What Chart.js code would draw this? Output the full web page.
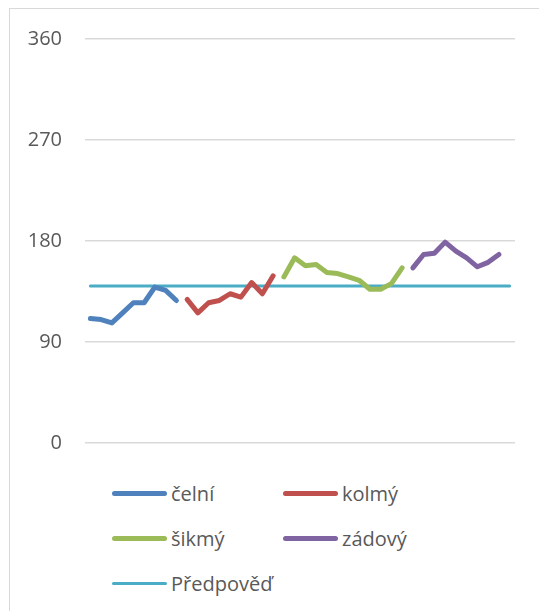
<!DOCTYPE html>
<html>
<head>
<meta charset="utf-8">
<script src="https://cdn.jsdelivr.net/npm/chart.js@4/dist/chart.umd.min.js"></script>
<style>
    html, body { margin: 0; padding: 0; background: #fff; overflow: hidden; }
    body { width: 539px; height: 611px; position: relative; font-family: 'Open Sans', sans-serif; }
    #frame { position: absolute; left: 9px; top: 8px; width: 600px; height: 700px; border: 1.5px solid #d9d9d9; }
    #wrap { position: absolute; left: 0; top: 0; width: 539px; height: 478px; }
    #legend { position: absolute; left: 0; top: 0; }
    .item { position: absolute; height: 30px; display: flex; align-items: center; color: #595959; font-size: 20px; }
    .swatch { width: 55px; border-radius: 3px; margin-right: 4px; }
</style>
</head>
<body>
<div id="frame"></div>
<div id="wrap"><canvas id="chart"></canvas></div>
<div id="legend"></div>
<script>
// 40 kategorií, každá řada má hodnoty jen ve svém úseku
const N = 40;
const labels = Array.from({ length: N }, (_, i) => String(i + 1));

const celni = [111, 110, 107, 116, 125, 125, 139, 136, 127];
const kolmy = [128, 116, 125, 127, 133, 130, 143, 133, 149];
const sikmy = [148, 165, 158, 159, 152, 151, 148, 145, 137, 137, 142, 156];
const zadovy = [156, 168, 169, 179, 171, 165, 157, 161, 168];
const predpoved = 140;

const yTicks = [0, 90, 180, 270, 360];

// úsek řady -> pole délky N s null mimo úsek
function place(values, start) {
    const out = new Array(N).fill(null);
    values.forEach((v, i) => { out[start + i] = v; });
    return out;
}

const series = [
    { label: 'čelní', data: place(celni, 0), color: '#4F81BD', width: 5 },
    { label: 'kolmý', data: place(kolmy, 9), color: '#C0504D', width: 5 },
    { label: 'šikmý', data: place(sikmy, 18), color: '#9BBB59', width: 5 },
    { label: 'zádový', data: place(zadovy, 30), color: '#8064A2', width: 5 },
    { label: 'Předpověď', data: new Array(N).fill(predpoved), color: '#4BACC6', width: 3 },
];

const chart = new Chart(document.getElementById('chart'), {
    type: 'line',
    data: {
        labels,
        datasets: series.map(s => ({
            label: s.label,
            data: s.data,
            borderColor: s.color,
            backgroundColor: s.color,
            borderWidth: s.width,
            borderCapStyle: 'round',
            borderJoinStyle: 'round',
            pointRadius: 0,
            tension: 0,
        })),
    },
    options: {
        responsive: true,
        maintainAspectRatio: false,
        animation: false,
        layout: { padding: { left: 0, right: 24, top: 39, bottom: 18 } },
        plugins: {
            legend: { display: false },
            tooltip: { enabled: false },
        },
        scales: {
            x: { display: false, offset: true },
            y: {
                min: 0,
                max: 360,
                afterFit(scale) { scale.width = 85; },
                afterBuildTicks(scale) { scale.ticks = yTicks.map(v => ({ value: v })); },
                border: { display: false },
                grid: { color: '#d9d9d9', lineWidth: 1.5, drawTicks: false },
                ticks: {
                    padding: 23,
                    color: '#595959',
                    font: { family: 'Open Sans', size: 20 },
                },
            },
        },
    },
});

// legenda: 2 sloupce, 3 řádky
const legendPos = [
    [112, 493], [283, 493],
    [112, 538], [283, 538],
    [112, 583],
];
const legend = document.getElementById('legend');
series.forEach((s, i) => {
    const [x, y] = legendPos[i];
    const item = document.createElement('div');
    item.className = 'item';
    item.style.left = x + 'px';
    item.style.top = (y - 15) + 'px';
    const sw = document.createElement('span');
    sw.className = 'swatch';
    sw.style.height = s.width + 'px';
    sw.style.background = s.color;
    const txt = document.createElement('span');
    txt.textContent = s.label;
    item.appendChild(sw);
    item.appendChild(txt);
    legend.appendChild(item);
});
</script>
</body>
</html>
